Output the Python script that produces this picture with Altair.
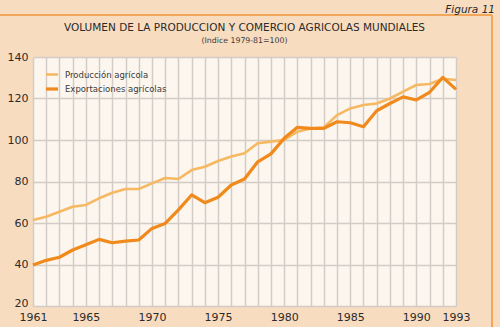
import altair as alt
import pandas as pd

years = list(range(1961, 1994))
produccion = [61.4, 63.0, 65.4, 67.8, 68.7, 71.9, 74.6, 76.4, 76.4, 79.1, 81.7,
              81.2, 85.5, 87.1, 89.9, 92.0, 93.6, 98.4, 99.2, 100.0, 104.0,
              105.5, 106.0, 112.0, 115.2, 116.9, 117.6, 120.0, 123.3, 126.5,
              127.0, 129.5, 128.9]
exportaciones = [39.8, 42.0, 43.5, 47.0, 49.5, 52.1, 50.5, 51.3, 51.8, 57.4, 59.8,
                 66.3, 73.5, 69.8, 72.4, 78.3, 81.2, 89.5, 93.3, 100.8, 106.1,
                 105.6, 105.6, 108.8, 108.3, 106.4, 114.1, 117.6, 120.8, 119.3,
                 123.0, 130.2, 124.4]
series_names = ["Producción agrícola", "Exportaciones agrícolas"]
x_label_years = [1961, 1965, 1970, 1975, 1980, 1985, 1990, 1993]
y_ticks = [20, 40, 60, 80, 100, 120, 140]

rows = []
for name, vals in zip(series_names, [produccion, exportaciones]):
    for y, v in zip(years, vals):
        rows.append({"year": y, "value": v, "serie": name})
df = pd.DataFrame(rows)

font = "DejaVu Sans"
label_list = ",".join(str(v) for v in x_label_years)

lines = alt.Chart(df).mark_line(strokeJoin="round").encode(
    x=alt.X("year:Q", scale=alt.Scale(domain=[1961, 1993], nice=False),
            axis=alt.Axis(values=years, format="d", title=None,
                          labelExpr=f"indexof([{label_list}], datum.value) >= 0 ? datum.label : ''",
                          grid=True, gridColor="#d3ccc6", gridWidth=1.5,
                          domain=False, ticks=False, labelPadding=5,
                          labelFlush=False, labelBound=False,
                          labelFont=font, labelFontSize=11, labelColor="#2a2a2a",
                          labelOverlap=False)),
    y=alt.Y("value:Q", scale=alt.Scale(domain=[20, 140], nice=False),
            axis=alt.Axis(values=y_ticks, title=None, grid=True,
                          gridColor="#d3ccc6", gridWidth=1.5, domain=False,
                          ticks=False, labelPadding=5, labelFont=font,
                          labelFlush=False,
                          labelBaseline={"condition": {"test": "datum.value == 20", "value": "alphabetic"},
                                         "value": "middle"},
                          labelFontSize=11, labelColor="#2a2a2a")),
    color=alt.Color("serie:N", sort=series_names,
                    scale=alt.Scale(domain=series_names, range=["#f7b862", "#f08a1c"]),
                    legend=alt.Legend(title=None, orient="none", legendX=11, legendY=10,
                                      symbolType="stroke", symbolSize=144,
                                      symbolStrokeWidth=3, labelFont=font,
                                      labelFontSize=8.5, labelColor="#3a3a3a",
                                      rowPadding=1, labelOffset=5)),
    strokeWidth=alt.StrokeWidth("serie:N", sort=series_names,
                                scale=alt.Scale(domain=series_names, range=[2.6, 3.2]),
                                legend=None),
)

title = alt.Chart(pd.DataFrame({"t": ["VOLUMEN DE LA PRODUCCION Y COMERCIO AGRICOLAS MUNDIALES"]})).mark_text(
    font=font, fontSize=10.5, color="#2a2a2a", align="center", baseline="middle"
).encode(text="t:N", x=alt.value(211.5), y=alt.value(-29))

subtitle = alt.Chart(pd.DataFrame({"t": ["(Indice 1979-81=100)"]})).mark_text(
    font=font, fontSize=7.8, color="#3a3a3a", align="center", baseline="middle"
).encode(text="t:N", x=alt.value(211.5), y=alt.value(-16))

figura = alt.Chart(pd.DataFrame({"t": ["Figura 11"]})).mark_text(
    font=font, fontSize=10.5, fontStyle="italic", color="#2a2a2a", align="right", baseline="middle"
).encode(text="t:N", x=alt.value(462), y=alt.value(-47))

top_border = alt.Chart(pd.DataFrame({"a": [0]})).mark_rule(color="#f2a65a", strokeWidth=2).encode(
    x=alt.value(-33), x2=alt.value(459), y=alt.value(-42))
right_border = alt.Chart(pd.DataFrame({"a": [0]})).mark_rule(color="#f2a65a", strokeWidth=2).encode(
    x=alt.value(459), y=alt.value(-42), y2=alt.value(270))

chart = alt.layer(top_border, right_border, lines, title, subtitle, figura).properties(
    width=423, height=249,
    background="#f8dcc0",
    padding={"left": 33, "top": 57, "right": 44, "bottom": 21},
    autosize=alt.AutoSizeParams(type="none"),
).configure_view(fill="#fcf6ee", stroke=None)

chart.save("out.html", embed_options={"renderer": "svg", "actions": False})
